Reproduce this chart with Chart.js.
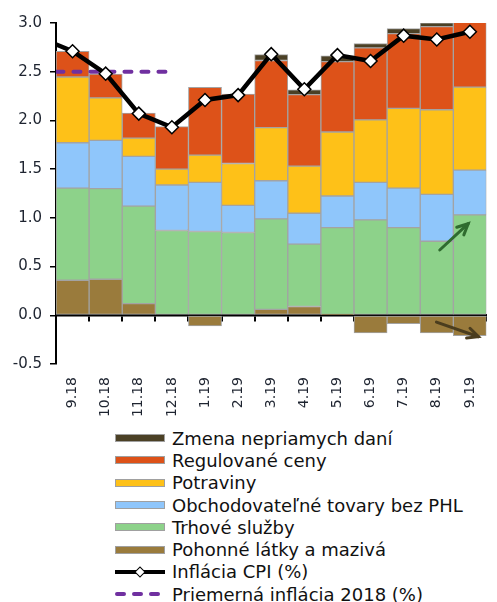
<!DOCTYPE html>
<html><head><meta charset="utf-8">
<script src="https://cdn.jsdelivr.net/npm/chart.js@4.4.1/dist/chart.umd.min.js"></script>
<style>
html,body{margin:0;padding:0;background:#fff;overflow:hidden;width:497px;height:602px;}
#wrap{position:relative;width:497px;height:602px;overflow:hidden;}
canvas{position:absolute;left:0;top:0;}
#legend{position:absolute;left:115px;top:427px;font-family:'DejaVu Sans';font-size:18px;color:#111;}
.row{height:22.3px;white-space:nowrap;display:flex;align-items:center;}
.box{width:50px;height:8px;box-sizing:border-box;border:1px solid #a0a0a0;margin-right:7px;flex:none;}
.svg{width:50px;height:12px;margin-right:7px;flex:none;}
</style></head><body>
<div id="wrap"><canvas id="c" width="500" height="425"></canvas><div id="legend"></div></div>
<script>
// Categories (8.18 is only used for the line segment entering from the left edge)
const labels = ['8.18','9.18','10.18','11.18','12.18','1.19','2.19','3.19','4.19','5.19','6.19','7.19','8.19','9.19'];
const yTicks = [-0.5, 0.0, 0.5, 1.0, 1.5, 2.0, 2.5, 3.0];

// Series (percentage-point contributions)
const pohonne    = [null, 0.36, 0.37, 0.12, 0.00, -0.11, 0.00, 0.06, 0.09, 0.01, -0.18, -0.085, -0.18, -0.21];
const trhove     = [null, 0.945, 0.93, 1.00, 0.87, 0.86, 0.85, 0.93, 0.64, 0.89, 0.98, 0.90, 0.76, 1.03];
const obchod     = [null, 0.466, 0.496, 0.511, 0.467, 0.504, 0.278, 0.391, 0.317, 0.324, 0.385, 0.405, 0.481, 0.46];
const potraviny  = [null, 0.675, 0.436, 0.188, 0.164, 0.28, 0.43, 0.545, 0.484, 0.657, 0.641, 0.819, 0.869, 0.852];
const regulovane = [null, 0.263, 0.245, 0.256, 0.436, 0.697, 0.713, 0.689, 0.734, 0.723, 0.739, 0.767, 0.852, 0.74];
const zmena      = [null, 0, 0, 0, 0, 0, 0, 0.06, 0.05, 0.058, 0.045, 0.051, 0.04, 0.05];
const cpi        = [2.85, 2.71, 2.48, 2.07, 1.93, 2.21, 2.26, 2.68, 2.32, 2.67, 2.61, 2.87, 2.83, 2.91];
const avg2018    = [2.5, 2.5, 2.5, 2.5, 2.5, null, null, null, null, null, null, null, null, null];

const names = {
  zmena: 'Zmena nepriamych daní',
  regulovane: 'Regulované ceny',
  potraviny: 'Potraviny',
  obchod: 'Obchodovateľné tovary bez PHL',
  trhove: 'Trhové služby',
  pohonne: 'Pohonné látky a mazivá',
  cpi: 'Inflácia CPI (%)',
  avg: 'Priemerná inflácia 2018 (%)'
};
const colors = {
  zmena: '#4b4025', regulovane: '#dd5219', potraviny: '#fec118', obchod: '#8fc6fb',
  trhove: '#8dd28a', pohonne: '#9a7b3c', cpi: '#000000', avg: '#7030a0'
};

// Annotation arrows (in data units: category index, value)
const arrows = [
  {color: '#2f6b2f', from: [12.09, 0.67], to: [12.95, 0.94]},
  {color: '#4b3d1e', from: [11.99, -0.07], to: [13.26, -0.22]}
];

const FONT = 'DejaVu Sans';

function barDs(key, data) {
  return {
    type: 'bar', label: names[key], data: data, backgroundColor: colors[key],
    borderColor: '#a3a3a3', borderWidth: 1, borderSkipped: false,
    barPercentage: 1, categoryPercentage: 1, stack: 'bars', order: 2, xAxisID: 'x'
  };
}

const arrowPlugin = {
  id: 'arrows',
  afterDatasetsDraw(chart) {
    const {ctx, scales: {x, y}, chartArea} = chart;
    ctx.save();
    ctx.beginPath();
    ctx.rect(chartArea.left, chartArea.top, chartArea.right - chartArea.left, chartArea.bottom - chartArea.top + 40);
    ctx.clip();
    arrows.forEach(a => {
      const x1 = x.getPixelForValue(a.from[0]), y1 = y.getPixelForValue(a.from[1]);
      const x2 = x.getPixelForValue(a.to[0]), y2 = y.getPixelForValue(a.to[1]);
      const ang = Math.atan2(y2 - y1, x2 - x1);
      ctx.strokeStyle = a.color; ctx.lineWidth = 3; ctx.lineCap = 'round';
      ctx.beginPath(); ctx.moveTo(x1, y1); ctx.lineTo(x2, y2); ctx.stroke();
      ctx.beginPath();
      ctx.moveTo(x2 - 12 * Math.cos(ang - 0.45), y2 - 12 * Math.sin(ang - 0.45));
      ctx.lineTo(x2, y2);
      ctx.lineTo(x2 - 12 * Math.cos(ang + 0.45), y2 - 12 * Math.sin(ang + 0.45));
      ctx.stroke();
    });
    ctx.restore();
  }
};

const chart = new Chart(document.getElementById('c'), {
  type: 'bar',
  data: {
    labels: labels,
    datasets: [
      {type: 'line', label: names.cpi, data: cpi, borderColor: colors.cpi, borderWidth: 4.5,
       pointStyle: 'rectRot', pointRadius: 6.5, pointBackgroundColor: '#fff', pointBorderColor: '#000',
       pointBorderWidth: 1.5, tension: 0, stack: 'cpi', order: 0, clip: 0, xAxisID: 'x'},
      {type: 'line', label: names.avg, data: avg2018, borderColor: colors.avg, borderWidth: 4,
       borderDash: [7, 10], borderCapStyle: 'round', pointRadius: 0, stack: 'avg', order: 1, clip: 0, xAxisID: 'x'},
      barDs('pohonne', pohonne),
      barDs('trhove', trhove),
      barDs('obchod', obchod),
      barDs('potraviny', potraviny),
      barDs('regulovane', regulovane),
      barDs('zmena', zmena)
    ]
  },
  options: {
    responsive: false,
    animation: false,
    layout: {padding: {top: 23, right: 2, left: 0, bottom: 0}},
    plugins: {legend: {display: false}, tooltip: {enabled: false}},
    scales: {
      x: {
        type: 'category', min: '9.18', stacked: true, offset: true,
        position: {y: 0},
        ticks: {display: false},
        grid: {display: true, offset: true, drawOnChartArea: false, drawTicks: true, tickLength: 5, color: '#000', lineWidth: 2},
        border: {display: true, color: '#000', width: 2.5}
      },
      x2: {
        type: 'category', min: '9.18', offset: true, position: 'bottom',
        grid: {display: false, drawTicks: false},
        border: {display: false},
        ticks: {autoSkip: false, maxRotation: 90, minRotation: 90, padding: 13,
                font: {family: FONT, size: 14}, color: '#1e2430'},
        afterFit(s) { s.height = 61; }
      },
      y: {
        stacked: true, min: -0.5, max: 3.0,
        afterBuildTicks(s) { s.ticks = yTicks.map(v => ({value: v})); },
        ticks: {padding: 8, font: {family: FONT, size: 15}, color: '#1e2430',
                callback: v => Number(v).toFixed(1)},
        grid: {display: true, drawOnChartArea: false, drawTicks: true, tickLength: 6, color: '#000', lineWidth: 1.5},
        border: {display: true, color: '#000', width: 2},
        afterFit(s) { s.width = 56; }
      }
    }
  },
  plugins: [arrowPlugin]
});

// HTML legend built from the chart's datasets
const legendOrder = ['zmena', 'regulovane', 'potraviny', 'obchod', 'trhove', 'pohonne', 'cpi', 'avg'];
const leg = document.getElementById('legend');
legendOrder.forEach(k => {
  const ds = chart.data.datasets.find(d => d.label === names[k]);
  const row = document.createElement('div');
  row.className = 'row';
  let sym;
  if (k === 'cpi') {
    sym = '<svg class="svg" viewBox="0 0 50 12"><line x1="0" y1="6" x2="50" y2="6" stroke="#000" stroke-width="4"/>' +
          '<rect x="21.5" y="2.5" width="7" height="7" fill="#fff" stroke="#000" stroke-width="1" transform="rotate(45 25 6)"/></svg>';
  } else if (k === 'avg') {
    sym = '<svg class="svg" viewBox="0 0 50 12"><line x1="2" y1="6" x2="48" y2="6" stroke="' + ds.borderColor +
          '" stroke-width="4" stroke-linecap="round" stroke-dasharray="7 10"/></svg>';
  } else {
    sym = '<span class="box" style="background:' + ds.backgroundColor + '"></span>';
  }
  row.innerHTML = sym + '<span>' + ds.label + '</span>';
  leg.appendChild(row);
});
</script>
</body></html>
